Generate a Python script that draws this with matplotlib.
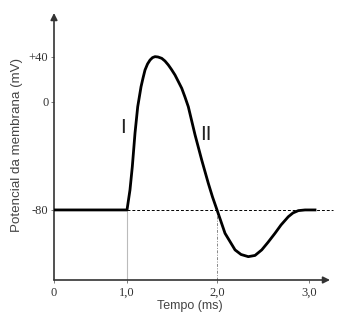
import numpy as np
import matplotlib
matplotlib.use("Agg")
import matplotlib.pyplot as plt

# action potential
tempo = [0.0, 1.0, 1.033, 1.059, 1.089, 1.119, 1.156, 1.178, 1.2, 1.228, 1.256,
         1.283, 1.311, 1.344, 1.386, 1.422, 1.459, 1.494, 1.533, 1.57, 1.608,
         1.644, 1.681, 1.756, 1.83, 1.903, 1.95, 2.0, 2.087, 2.196, 2.261, 2.34,
         2.413, 2.486, 2.554, 2.63, 2.696, 2.775, 2.826, 2.884, 2.957, 3.065]
potencial = [-80, -80, -65.2, -47.9, -23, -3.5, 13.6, 21.3, 28.4, 33.8, 37.3,
             39.4, 40.3, 40.0, 38.8, 36.4, 32.9, 28.9, 24, 18.2, 12.2,
             4.4, -3.5, -24.4, -43, -60.2, -70.4, -80, -97.3, -109.6, -113, -114.6,
             -113.7, -109.6, -104, -97.3, -91.1, -85, -82.2, -80.5, -80, -80]

repouso = -80
t_estimulo = 1.0
t_cruzamento = 2.0

x_ticks = [0, 1, 2, 3]
x_labels = ["0", "1,0", "2,0", "3,0"]
y_ticks = [40, 0, -80]
y_labels = ["+40", "0", "-80"]

# the hand drawing is not evenly spaced: piecewise scale knots (nominal -> drawing)
X_NOM, X_DRAW = [0, 1, 2, 3], [54, 127, 217, 309]
Y_NOM, Y_DRAW = [-80, 0, 40], [-210, -102, -57]


def piecewise(src, dst):
    src = np.asarray(src, float)
    dst = np.asarray(dst, float)
    lo_slope = (dst[1] - dst[0]) / (src[1] - src[0])
    hi_slope = (dst[-1] - dst[-2]) / (src[-1] - src[-2])

    def f(v):
        v = np.asarray(v, float)
        out = np.interp(v, src, dst)
        out = np.where(v < src[0], dst[0] + (v - src[0]) * lo_slope, out)
        out = np.where(v > src[-1], dst[-1] + (v - src[-1]) * hi_slope, out)
        return out
    return f


W, H = 342, 325
fig = plt.figure(figsize=(W / 100, H / 100), dpi=100)
ax = fig.add_axes([54 / W, 45 / H, 276 / W, 267 / H])
ax.set_xscale("function", functions=(piecewise(X_NOM, X_DRAW), piecewise(X_DRAW, X_NOM)))
ax.set_yscale("function", functions=(piecewise(Y_NOM, Y_DRAW), piecewise(Y_DRAW, Y_NOM)))
ax.set_xlim(0, 3.228)
ax.set_ylim(-131.9, 79.1)

for s in ax.spines.values():
    s.set_visible(False)

axcol = "#333333"
arrow = dict(arrowstyle="-|>", color=axcol, lw=1.2, mutation_scale=10, shrinkA=0, shrinkB=0)
ax.annotate("", xy=(0, 1), xytext=(0, 0), xycoords="axes fraction", arrowprops=arrow)
ax.annotate("", xy=(1, 0), xytext=(0, 0), xycoords="axes fraction", arrowprops=arrow)

# reference lines
ybot = ax.get_ylim()[0]
ax.hlines(repouso, t_estimulo, 3.26, colors="black", linestyles=(0, (3, 2)), lw=0.7, clip_on=False)
ax.vlines(t_estimulo, ybot, repouso, colors="#bbbbbb", lw=0.8)
ax.vlines(t_cruzamento, ybot, repouso, colors="#888888", linestyles=(0, (3, 1.5, 1, 1.5)), lw=0.7)

ax.plot(tempo, potencial, color="black", lw=2.0, solid_joinstyle="round", zorder=5)

ax.set_xticks(x_ticks)
ax.set_xticklabels(x_labels)
ax.set_yticks(y_ticks)
ax.set_yticklabels(y_labels)
ax.tick_params(direction="out", length=2.5, width=0.6, colors="#666666",
               labelcolor="#333333", labelsize=9)
ax.tick_params(axis="x", pad=2.5)
ax.tick_params(axis="y", pad=1.5)
for lab in ax.get_xticklabels() + ax.get_yticklabels():
    lab.set_fontfamily("Liberation Serif")

ax.text(0.945, -19, "I", ha="center", va="center", fontsize=15,
        family="Liberation Sans", color="#222222")
ax.text(1.878, -24, "II", ha="center", va="center", fontsize=15,
        family="Liberation Sans", color="#222222")

fig.text(190 / W, 1 - 306 / H, "Tempo (ms)", ha="center", va="center",
         fontsize=9, family="Liberation Sans", color="#444444")
fig.text(17 / W, 1 - 145 / H, "Potencial da membrana (mV)", ha="center", va="center",
         rotation=90, fontsize=9.6, family="Liberation Sans", color="#444444")

fig.savefig("out.png", dpi=100, facecolor="white")
